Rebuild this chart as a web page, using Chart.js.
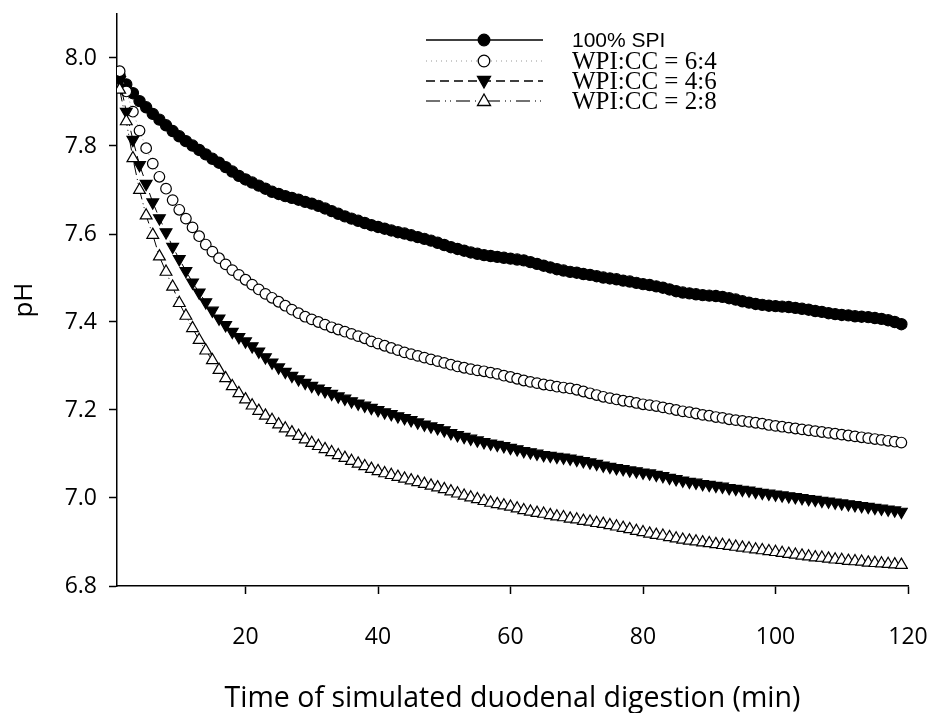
<!DOCTYPE html>
<html>
<head>
<meta charset="utf-8">
<script src="https://cdn.jsdelivr.net/npm/chart.js@4"></script>
<style>
  html, body { margin: 0; padding: 0; background: #fff; }
  #wrap { width: 930px; height: 713px; }
</style>
</head>
<body>
<div id="wrap"><canvas id="chart" width="930" height="713"></canvas></div>
<script>
// time points (min)
const minutes = Array.from({ length: 119 }, (_, i) => i + 1);

// pH readings, one per minute
const spi100 = [
  7.960, 7.940, 7.920, 7.902, 7.888, 7.873, 7.860, 7.847, 7.834, 7.822,
  7.811, 7.801, 7.791, 7.781, 7.771, 7.762, 7.752, 7.742, 7.732, 7.724,
  7.717, 7.710, 7.703, 7.696, 7.691, 7.686, 7.682, 7.678, 7.673, 7.669,
  7.664, 7.658, 7.652, 7.646, 7.640, 7.635, 7.630, 7.625, 7.620, 7.616,
  7.612, 7.608, 7.604, 7.601, 7.597, 7.593, 7.589, 7.585, 7.580, 7.575,
  7.570, 7.566, 7.562, 7.558, 7.555, 7.552, 7.550, 7.548, 7.546, 7.544,
  7.542, 7.540, 7.536, 7.532, 7.528, 7.524, 7.520, 7.517, 7.514, 7.512,
  7.509, 7.507, 7.504, 7.501, 7.499, 7.497, 7.494, 7.492, 7.489, 7.486,
  7.484, 7.481, 7.478, 7.474, 7.470, 7.467, 7.465, 7.463, 7.461, 7.460,
  7.459, 7.457, 7.454, 7.451, 7.447, 7.444, 7.441, 7.439, 7.437, 7.436,
  7.435, 7.434, 7.432, 7.430, 7.428, 7.425, 7.423, 7.420, 7.418, 7.416,
  7.415, 7.413, 7.412, 7.411, 7.409, 7.407, 7.404, 7.400, 7.395
];
const wpiCc64 = [
  7.970, 7.924, 7.878, 7.835, 7.795, 7.760, 7.730, 7.703, 7.677, 7.655,
  7.635, 7.615, 7.595, 7.576, 7.560, 7.545, 7.531, 7.518, 7.507, 7.496,
  7.485, 7.474, 7.464, 7.455, 7.446, 7.437, 7.428, 7.420, 7.412, 7.406,
  7.400, 7.394, 7.388, 7.383, 7.378, 7.373, 7.368, 7.363, 7.356, 7.351,
  7.346, 7.341, 7.336, 7.331, 7.327, 7.323, 7.319, 7.315, 7.311, 7.307,
  7.303, 7.299, 7.296, 7.293, 7.290, 7.288, 7.285, 7.282, 7.278, 7.275,
  7.271, 7.267, 7.264, 7.261, 7.258, 7.256, 7.253, 7.251, 7.249, 7.246,
  7.242, 7.238, 7.234, 7.230, 7.227, 7.224, 7.221, 7.219, 7.216, 7.213,
  7.211, 7.209, 7.206, 7.203, 7.200, 7.197, 7.195, 7.192, 7.189, 7.187,
  7.184, 7.182, 7.179, 7.177, 7.175, 7.173, 7.171, 7.169, 7.166, 7.164,
  7.162, 7.160, 7.158, 7.156, 7.154, 7.152, 7.150, 7.148, 7.146, 7.144,
  7.142, 7.140, 7.138, 7.136, 7.134, 7.132, 7.130, 7.128, 7.126
];
const wpiCc46 = [
  7.950, 7.878, 7.814, 7.757, 7.714, 7.672, 7.636, 7.604, 7.571, 7.543,
  7.516, 7.490, 7.467, 7.445, 7.426, 7.408, 7.393, 7.378, 7.366, 7.356,
  7.345, 7.333, 7.320, 7.308, 7.297, 7.287, 7.278, 7.270, 7.262, 7.255,
  7.249, 7.243, 7.237, 7.231, 7.226, 7.220, 7.215, 7.210, 7.205, 7.200,
  7.195, 7.191, 7.186, 7.182, 7.177, 7.172, 7.167, 7.163, 7.159, 7.154,
  7.148, 7.143, 7.139, 7.135, 7.131, 7.127, 7.124, 7.121, 7.118, 7.114,
  7.111, 7.107, 7.104, 7.101, 7.098, 7.096, 7.094, 7.092, 7.090, 7.087,
  7.084, 7.081, 7.078, 7.074, 7.071, 7.068, 7.066, 7.063, 7.061, 7.058,
  7.056, 7.053, 7.050, 7.046, 7.043, 7.040, 7.037, 7.035, 7.032, 7.030,
  7.028, 7.026, 7.023, 7.021, 7.019, 7.017, 7.014, 7.012, 7.010, 7.008,
  7.006, 7.004, 7.002, 7.000, 6.998, 6.996, 6.994, 6.992, 6.990, 6.988,
  6.986, 6.984, 6.982, 6.980, 6.978, 6.976, 6.974, 6.972, 6.969
];
const wpiCc28 = [
  7.928, 7.856, 7.772, 7.700, 7.642, 7.598, 7.549, 7.514, 7.480, 7.443,
  7.414, 7.386, 7.359, 7.335, 7.313, 7.291, 7.272, 7.254, 7.238, 7.224,
  7.210, 7.198, 7.187, 7.177, 7.167, 7.158, 7.149, 7.141, 7.133, 7.125,
  7.118, 7.111, 7.104, 7.097, 7.091, 7.084, 7.078, 7.072, 7.066, 7.061,
  7.056, 7.052, 7.048, 7.044, 7.040, 7.036, 7.032, 7.028, 7.024, 7.020,
  7.015, 7.010, 7.005, 7.001, 6.997, 6.993, 6.989, 6.986, 6.983, 6.980,
  6.976, 6.972, 6.969, 6.966, 6.964, 6.961, 6.958, 6.956, 6.953, 6.951,
  6.948, 6.946, 6.943, 6.941, 6.938, 6.935, 6.932, 6.929, 6.925, 6.922,
  6.919, 6.916, 6.914, 6.911, 6.908, 6.905, 6.903, 6.901, 6.899, 6.897,
  6.895, 6.893, 6.891, 6.889, 6.887, 6.885, 6.883, 6.881, 6.879, 6.877,
  6.875, 6.873, 6.871, 6.869, 6.867, 6.865, 6.864, 6.862, 6.860, 6.859,
  6.857, 6.856, 6.855, 6.853, 6.852, 6.851, 6.850, 6.849, 6.848
];

const seriesNames = ["100% SPI", "WPI:CC = 6:4", "WPI:CC = 4:6", "WPI:CC = 2:8"];
const xTicks = [20, 40, 60, 80, 100, 120];
const yTicks = [6.8, 7.0, 7.2, 7.4, 7.6, 7.8, 8.0];

const toPoints = vals => vals.map((v, i) => ({ x: minutes[i], y: v }));

// hand drawn legend, mixed fonts like the original figure
const legendPlugin = {
  id: "figLegend",
  afterDraw(chart) {
    const ctx = chart.ctx;
    const serif = "25px 'Liberation Serif', 'Times New Roman', serif";
    const rows = [
      { y: 40, dash: [], color: "#000", marker: "dot", font: "21px 'Liberation Sans', Arial, sans-serif" },
      { y: 61, dash: [1, 4], color: "#bbb", marker: "ring", font: serif },
      { y: 81, dash: [9, 5], color: "#000", marker: "down", font: serif },
      { y: 101, dash: [14, 5, 1, 4, 1, 5], color: "#444", marker: "up", font: serif }
    ];
    ctx.save();
    rows.forEach((r, i) => {
      ctx.beginPath();
      ctx.setLineDash(r.dash);
      ctx.strokeStyle = r.color;
      ctx.lineWidth = 1.5;
      ctx.moveTo(426, r.y);
      ctx.lineTo(543, r.y);
      ctx.stroke();
      ctx.setLineDash([]);
      ctx.strokeStyle = "#000";
      ctx.lineWidth = 1.3;
      const cx = 484, cy = r.y;
      ctx.beginPath();
      if (r.marker === "dot" || r.marker === "ring") {
        ctx.arc(cx, cy, 5.8, 0, Math.PI * 2);
      } else if (r.marker === "down") {
        ctx.moveTo(cx - 6.5, cy - 4.5);
        ctx.lineTo(cx + 6.5, cy - 4.5);
        ctx.lineTo(cx, cy + 7);
        ctx.closePath();
      } else {
        ctx.moveTo(cx - 6.5, cy + 4.5);
        ctx.lineTo(cx + 6.5, cy + 4.5);
        ctx.lineTo(cx, cy - 7);
        ctx.closePath();
      }
      ctx.fillStyle = (r.marker === "dot" || r.marker === "down") ? "#000" : "#fff";
      ctx.fill();
      ctx.stroke();
      ctx.fillStyle = "#000";
      ctx.font = r.font;
      ctx.textAlign = "left";
      ctx.textBaseline = "middle";
      ctx.fillText(seriesNames[i], 572, r.y + 1);
    });
    ctx.restore();
  }
};

const ctx = document.getElementById("chart").getContext("2d");

new Chart(ctx, {
  type: "line",
  data: {
    datasets: [
      {
        label: seriesNames[0], data: toPoints(spi100), order: 3,
        borderColor: "#000", borderWidth: 1,
        pointStyle: "circle", pointRadius: 5.6, pointBorderWidth: 1.2,
        pointBackgroundColor: "#000", pointBorderColor: "#000"
      },
      {
        label: seriesNames[1], data: toPoints(wpiCc64), order: 2,
        borderColor: "#999", borderWidth: 1, borderDash: [1, 3],
        pointStyle: "circle", pointRadius: 5.3, pointBorderWidth: 1.2,
        pointBackgroundColor: "#fff", pointBorderColor: "#000"
      },
      {
        label: seriesNames[2], data: toPoints(wpiCc46), order: 1,
        borderColor: "#000", borderWidth: 1, borderDash: [8, 5],
        pointStyle: "triangle", pointRotation: 180, pointRadius: 6.8, pointBorderWidth: 1.2,
        pointBackgroundColor: "#000", pointBorderColor: "#000"
      },
      {
        label: seriesNames[3], data: toPoints(wpiCc28), order: 0,
        borderColor: "#000", borderWidth: 1, borderDash: [12, 4, 1, 3, 1, 4],
        pointStyle: "triangle", pointRadius: 6.8, pointBorderWidth: 1.2,
        pointBackgroundColor: "#fff", pointBorderColor: "#000"
      }
    ]
  },
  options: {
    responsive: false,
    animation: false,
    layout: { padding: { left: 0, top: 14, right: 22, bottom: 0 } },
    plugins: { legend: { display: false }, tooltip: { enabled: false } },
    scales: {
      x: {
        type: "linear", min: 0.6, max: 120,
        afterBuildTicks: s => { s.ticks = xTicks.map(v => ({ value: v })); },
        afterFit: s => { s.height = 127; s.paddingLeft = 0; s.paddingRight = 0; },
        grid: { display: true, drawOnChartArea: false, drawTicks: true, tickLength: 8, tickColor: "#000", tickWidth: 1.5 },
        border: { display: true, color: "#000", width: 1.5 },
        ticks: {
          color: "#000", padding: 30, autoSkip: false, maxRotation: 0,
          font: { family: "'Liberation Sans Narrow', 'Open Sans', sans-serif", size: 23 }
        },
        title: {
          display: true, text: "Time of simulated duodenal digestion (min)", color: "#000",
          font: { family: "'Open Sans', sans-serif", size: 28.5, lineHeight: 1 },
          padding: { top: 0, bottom: 0 }
        }
      },
      y: {
        min: 6.8, max: 8.1,
        afterBuildTicks: s => { s.ticks = yTicks.map(v => ({ value: v })); },
        afterFit: s => { s.width = 117; s.paddingTop = 0; s.paddingBottom = 0; },
        grid: { display: true, drawOnChartArea: false, drawTicks: true, tickLength: 8, tickColor: "#000", tickWidth: 1.5 },
        border: { display: true, color: "#000", width: 1.5 },
        ticks: {
          color: "#000", padding: 12,
          font: { family: "'Open Sans', sans-serif", size: 23 },
          callback: v => Number(v).toFixed(1)
        },
        title: {
          display: true, text: "pH", color: "#000",
          font: { family: "'Open Sans', sans-serif", size: 26, lineHeight: 1 },
          padding: { top: 12, bottom: 0 }
        }
      }
    }
  },
  plugins: [legendPlugin]
});
</script>
</body>
</html>
